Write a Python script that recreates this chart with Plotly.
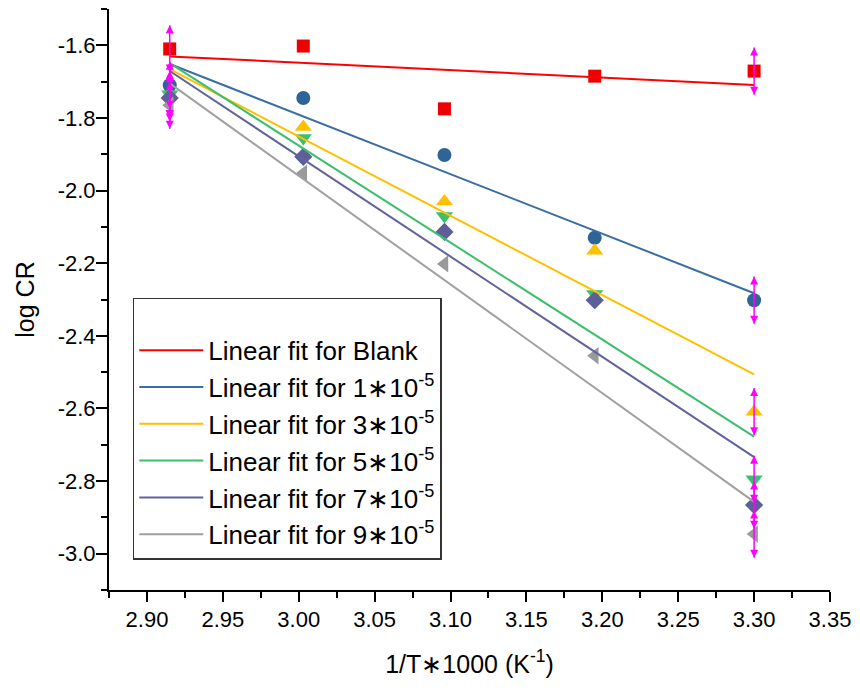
import numpy as np
import plotly.graph_objects as go

# ---------------- data ----------------
inv_T = [2.915, 3.003, 3.096, 3.195, 3.300]          # 1/T*1000 (K^-1)

series_labels = ["Blank", "1∗10<sup>-5</sup>", "3∗10<sup>-5</sup>",
                 "5∗10<sup>-5</sup>", "7∗10<sup>-5</sup>", "9∗10<sup>-5</sup>"]

log_cr_blank = [-1.610, -1.602, -1.775, -1.685, -1.671]
log_cr_1e5 = [-1.710, -1.745, -1.902, -2.130, -2.302]
log_cr_3e5 = [-1.737, -1.825, -2.030, -2.166, -2.609]
log_cr_5e5 = [-1.735, -1.855, -2.070, -2.285, -2.795]
log_cr_7e5 = [-1.745, -1.907, -2.114, -2.302, -2.866]
log_cr_9e5 = [-1.765, -1.952, -2.202, -2.455, -2.946]

err_blank = [0.065, 0, 0, 0, 0.065]
err_1e5 = [0.065, 0, 0, 0, 0.065]
err_3e5 = [0.065, 0, 0, 0, 0.065]
err_5e5 = [0.065, 0, 0, 0, 0.065]
err_7e5 = [0.065, 0, 0, 0, 0.065]
err_9e5 = [0.065, 0, 0, 0, 0.065]

x_tickvals = [2.90, 2.95, 3.00, 3.05, 3.10, 3.15, 3.20, 3.25, 3.30, 3.35]
x_ticktext = ["2.90", "2.95", "3.00", "3.05", "3.10", "3.15", "3.20", "3.25", "3.30", "3.35"]
y_tickvals = [-1.6, -1.8, -2.0, -2.2, -2.4, -2.6, -2.8, -3.0]
y_ticktext = ["-1.6", "-1.8", "-2.0", "-2.2", "-2.4", "-2.6", "-2.8", "-3.0"]

# ---------------- styles ----------------
all_y = [log_cr_blank, log_cr_1e5, log_cr_3e5, log_cr_5e5, log_cr_7e5, log_cr_9e5]
all_err = [err_blank, err_1e5, err_3e5, err_5e5, err_7e5, err_9e5]
line_colors = ["#ff0000", "#3a6ea5", "#ffc000", "#3cbf6b", "#62629e", "#a0a0a0"]
marker_colors = ["#ee0000", "#2f6497", "#ffc000", "#3cbf6b", "#5e5e98", "#9a9a9a"]
symbols = ["square", "circle", "triangle-up", "triangle-down", "diamond", "triangle-left"]
sizes = [13, 14, 15, 15, 14, 15]
ERR_COLOR = "#ff00ff"
FONT = "Liberation Sans, Arial, sans-serif"

fig = go.Figure()

# data markers
for ys, col, sym, sz in zip(all_y, marker_colors, symbols, sizes):
    fig.add_trace(go.Scatter(x=inv_T, y=ys, mode="markers",
                             marker=dict(symbol=sym, size=sz, color=col, line=dict(width=0)),
                             showlegend=False, hoverinfo="x+y"))

# linear fits
for i, (ys, col, lab) in enumerate(zip(all_y, line_colors, series_labels)):
    slope, intercept = np.polyfit(inv_T, ys, 1)
    xf = [inv_T[0], inv_T[-1]]
    yf = [slope * xv + intercept for xv in xf]
    fig.add_trace(go.Scatter(x=xf, y=yf, mode="lines",
                             line=dict(color=col, width=2),
                             name="Linear fit for " + lab,
                             legendgroup="g%d" % i, showlegend=True))

# error bars (on top) with arrow heads
for ys, es in zip(all_y, all_err):
    idx = [k for k, e in enumerate(es) if e > 0]
    xs = [inv_T[k] for k in idx]
    yv = [ys[k] for k in idx]
    ev = [es[k] for k in idx]
    fig.add_trace(go.Scatter(x=xs, y=yv, mode="markers",
                             marker=dict(size=1, color="rgba(0,0,0,0)"),
                             error_y=dict(type="data", array=ev, visible=True,
                                          color=ERR_COLOR, thickness=1.5, width=0),
                             showlegend=False, hoverinfo="skip"))
    fig.add_trace(go.Scatter(x=xs + xs,
                             y=[a + b for a, b in zip(yv, ev)] + [a - b for a, b in zip(yv, ev)],
                             mode="markers",
                             marker=dict(symbol=["arrow-up"] * len(xs) + ["arrow-down"] * len(xs),
                                         size=8, color=ERR_COLOR, line=dict(width=0)),
                             showlegend=False, hoverinfo="skip"))

axis_common = dict(showline=True, linecolor="black", linewidth=2, mirror=False,
                   ticks="outside", tickcolor="black", tickwidth=2,
                   showgrid=False, zeroline=False, ticklabeloverflow="allow",
                   tickfont=dict(family=FONT, size=22, color="black"))

fig.update_layout(
    width=860, height=688,
    margin=dict(l=109, r=28, t=9, b=98),
    paper_bgcolor="white", plot_bgcolor="white",
    font=dict(family=FONT, color="black"),
    xaxis=dict(range=[2.875, 3.35], tickvals=x_tickvals, ticktext=x_ticktext, ticklen=10,
               ticklabelstandoff=-1,
               minor=dict(ticks="outside", ticklen=6, tickwidth=2, tickcolor="black",
                          tick0=2.875, dtick=0.05),
               title=dict(text="1/T∗1000 (K<sup>-1</sup>)", font=dict(family=FONT, size=25),
                          standoff=24),
               **axis_common),
    yaxis=dict(range=[-3.1, -1.5], tickvals=y_tickvals, ticktext=y_ticktext, ticklen=11,
               ticklabelstandoff=-4,
               minor=dict(ticks="outside", ticklen=6, tickwidth=2, tickcolor="black",
                          tick0=-1.5, dtick=0.2),
               title=dict(text="log CR", font=dict(family=FONT, size=25), standoff=16),
               **axis_common),
    legend=dict(x=0.033, y=0.5026, xanchor="left", yanchor="top",
                bgcolor="white", bordercolor="#333333", borderwidth=1.5,
                font=dict(family=FONT, size=26, color="black"),
                title=dict(text=" ", font=dict(size=21)),
                tracegroupgap=0, itemwidth=64),
)

fig.write_html("out.html", config={"displayModeBar": False},
               post_script="document.body.style.margin='0px';document.body.style.padding='0px';")
